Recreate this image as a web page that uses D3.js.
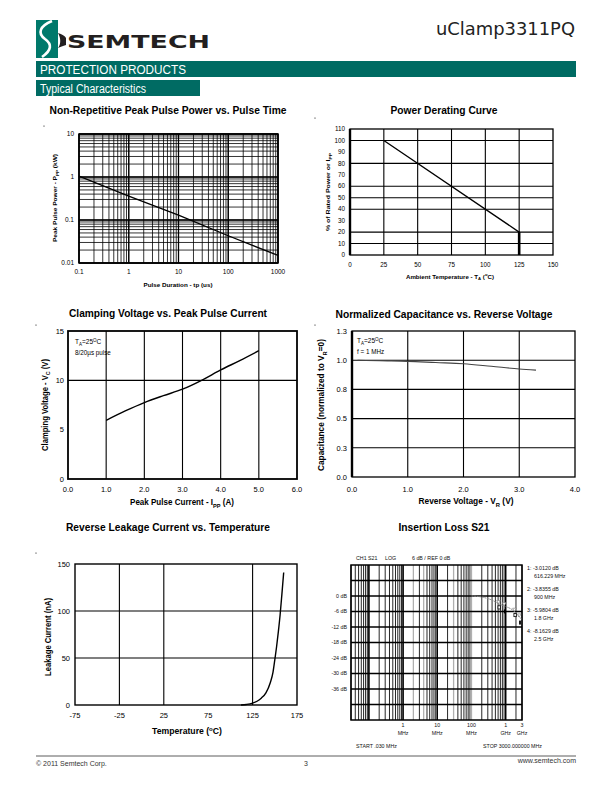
<!DOCTYPE html>
<html><head><meta charset="utf-8">
<script src="https://cdn.jsdelivr.net/npm/d3@7"></script>
<style>body{margin:0;background:#fff}svg{display:block}</style>
</head><body><svg id="page" width="612" height="792"></svg>
<script>
// ---------------- DATA ----------------
const pulseTime = [0.1, 1, 10, 100, 1000];
const pulsePower = [1.05, 0.36, 0.13, 0.043, 0.015];
const pulseXTicks = [0.1, 1, 10, 100, 1000];
const pulseXLabels = ["0.1", "1", "10", "100", "1000"];
const pulseYTicks = [0.01, 0.1, 1, 10];
const pulseYLabels = ["0.01", "0.1", "1", "10"];

const deratingTemp = [25, 125, 125];
const deratingPct = [100, 20, 0];
const deratingXTicks = [0, 25, 50, 75, 100, 125, 150];
const deratingYTicks = [0, 10, 20, 30, 40, 50, 60, 70, 80, 90, 100, 110];
const deratingXGrid = [25, 50, 75, 100, 125];
const deratingYGrid = [10, 20, 40, 50, 60, 80, 100];

const clampCurrent = [1.0, 1.5, 2.0, 2.5, 3.0, 3.5, 4.0, 4.5, 5.0];
const clampVoltage = [5.95, 6.9, 7.75, 8.45, 9.1, 10.0, 11.05, 12.0, 13.0];
const clampXTicks = [0, 1, 2, 3, 4, 5, 6];
const clampYTicks = [0, 5, 10, 15];
const clampXGrid = [1, 2, 3, 4, 5];
const clampYGrid = [10];

const capVoltage = [0.1, 0.5, 1.0, 1.5, 2.0, 2.5, 3.0, 3.3];
const capNorm = [1.0, 0.995, 0.99, 0.98, 0.97, 0.948, 0.925, 0.915];
const capXTicks = [0, 1, 2, 3, 4];
const capYTicks = [0, 0.25, 0.5, 0.75, 1.0, 1.25];
const capYLabels = ["0.0", "0.3", "0.5", "0.8", "1.0", "1.3"];
const capXGrid = [1, 2, 3];
const capYGrid = [0.25, 0.5, 0.75, 1.0];

const leakTemp = [112, 118, 125, 130, 135, 140, 145, 148, 150, 152, 154, 156, 158, 160];
const leakCurrent = [0, 0.6, 2, 4, 7.5, 13, 24, 35, 48, 62, 78, 96, 118, 141];
const leakXTicks = [-75, -25, 25, 75, 125, 175];
const leakYTicks = [0, 50, 100, 150];
const leakXGrid = [-25, 25, 125];
const leakYGrid = [50, 100];

const s21Freq = [100, 200, 300, 400, 500, 616.229, 900, 1800, 2500, 3000];
const s21Loss = [0, -0.4, -1.0, -1.6, -2.3, -3.012, -3.8355, -5.9804, -8.1629, -9.0];
const markerFreq = [616.229, 900, 1800, 2500];
const markerLoss = [-3.012, -3.8355, -5.9804, -8.1629];
const markerLine1 = ["1: -3.0120 dB", "2: -3.8355 dB", "3: -5.9804 dB", "4: -8.1629 dB"];
const markerLine2 = ["616.229 MHz", "900 MHz", "1.8 GHz", "2.5 GHz"];
const s21YTicks = [0, -6, -12, -18, -24, -30, -36];
const s21YGrid = [6, 0, -6, -12, -18, -24, -30, -36, -42];
const s21XTicks = [1, 10, 100, 1000, 3000];
const s21XLabels = ["1", "10", "100", "1", "3"];
const s21XUnits = ["MHz", "MHz", "MHz", "GHz", "GHz"];
const s21GrayFreq = [2, 4, 30, 100];

// ---------------- HELPERS ----------------
const SANS = '"Liberation Sans", Arial, Helvetica, sans-serif';
const NARROW = '"Liberation Sans Narrow", "Arial Narrow", "Liberation Sans", Arial, sans-serif';
const svg = d3.select("#page");

function label(g, x, y, parts, o = {}) {
  const size = o.size || 8;
  const t = g.append("text").attr("x", x).attr("y", y)
    .attr("font-size", size).attr("font-weight", o.bold ? "bold" : "normal")
    .attr("text-anchor", o.anchor || "start").attr("fill", o.fill || "#000")
    .style("font-family", o.family || SANS);
  if (o.rotate) t.attr("transform", `rotate(-90,${x},${y})`);
  if (o.width) t.attr("textLength", o.width).attr("lengthAdjust", "spacingAndGlyphs");
  if (typeof parts === "string") parts = [{t: parts}];
  let shift = 0;
  parts.forEach(p => {
    const ts = t.append("tspan").text(p.t);
    let target = 0;
    if (p.sub) { target = size * 0.3; ts.attr("font-size", size * 0.7); }
    if (p.sup) { target = -size * 0.35; ts.attr("font-size", size * 0.7); }
    if (target !== shift) { ts.attr("dy", target - shift); shift = target; }
  });
  if (o.fitScale) {
    const w = t.node().getComputedTextLength();
    if (w > 0) t.attr("transform", `translate(${x},${y}) scale(${o.fitScale / w},1) translate(${-x},${-y})`);
  }
  return t;
}
function vgrid(g, x, y, vals, sw, color) {
  const [y0, y1] = y.range();
  g.append("g").selectAll("line").data(vals).join("line")
    .attr("x1", d => x(d)).attr("x2", d => x(d)).attr("y1", y0).attr("y2", y1)
    .attr("stroke", color || "#000").attr("stroke-width", sw);
}
function hgrid(g, x, y, vals, sw, color) {
  const [x0, x1] = x.range();
  g.append("g").selectAll("line").data(vals).join("line")
    .attr("y1", d => y(d)).attr("y2", d => y(d)).attr("x1", x0).attr("x2", x1)
    .attr("stroke", color || "#000").attr("stroke-width", sw);
}
function frame(g, x, y, sw, leftSw) {
  const [x0, x1] = x.range(), [y0, y1] = y.range();
  g.append("rect").attr("x", x0).attr("y", y1).attr("width", x1 - x0).attr("height", y0 - y1)
    .attr("fill", "none").attr("stroke", "#000").attr("stroke-width", sw);
  if (leftSw) g.append("line").attr("x1", x0).attr("x2", x0).attr("y1", y1).attr("y2", y0)
    .attr("stroke", "#000").attr("stroke-width", leftSw);
}
function title(x, y, s, w) {
  label(svg, x, y, s, {size: 10.5, bold: true, anchor: "middle", family: NARROW, width: w});
}
function dot(x, y) { svg.append("circle").attr("cx", x).attr("cy", y).attr("r", 0.6).attr("fill", "#000"); }
const isDecade = d => Math.abs(Math.log10(d) - Math.round(Math.log10(d))) < 1e-6;

// ---------------- HEADER ----------------
const TEAL = "#006b63";
svg.append("rect").attr("x", 36).attr("y", 20).attr("width", 22).attr("height", 38).attr("fill", "#00796b");
svg.append("path").attr("d", "M52,21 C40,26 37,33 45,39 C52,44 52,50 42,57")
  .attr("fill", "none").attr("stroke", "#fff").attr("stroke-width", 2.6);
svg.append("path").attr("d", "M58,33 C62,34 65,36 66,38 L66,45 C63,46 60,47 58,48 C61,44 61,38 58,33 Z").attr("fill", "#231f20");
label(svg, 67, 47.5, "SEMTECH", {size: 17, bold: true, family: '"DejaVu Sans", "Liberation Sans", sans-serif', width: 143, fill: "#231f20"});
label(svg, 575, 35, "uClamp3311PQ", {size: 18, anchor: "end", width: 139, fill: "#222", family: '"DejaVu Sans", "Liberation Sans", sans-serif'});
svg.append("rect").attr("x", 36).attr("y", 61).attr("width", 540).attr("height", 16).attr("fill", TEAL);
label(svg, 40, 73.5, "PROTECTION PRODUCTS", {size: 12, fill: "#fff", family: NARROW, width: 146});
svg.append("rect").attr("x", 36).attr("y", 80).attr("width", 164).attr("height", 16).attr("fill", TEAL);
label(svg, 40, 92.5, "Typical Characteristics", {size: 12, fill: "#fff", family: NARROW, width: 106});

// ---------------- CHART 1: pulse power ----------------
title(168, 114, "Non-Repetitive Peak Pulse Power vs. Pulse Time", 237);
dot(44, 126);
(function () {
  const x = d3.scaleLog().domain([0.1, 1000]).range([79, 278]);
  const y = d3.scaleLog().domain([0.01, 10]).range([263, 134]);
  const g = svg.append("g");
  vgrid(g, x, y, x.ticks(), 0.8);
  vgrid(g, x, y, x.ticks().filter(isDecade), 1.3);
  hgrid(g, x, y, y.ticks(), 0.8);
  hgrid(g, x, y, y.ticks().filter(isDecade), 1.3);
  frame(g, x, y, 1.5);
  const pts = pulseTime.map((t, i) => [t, pulsePower[i]]);
  g.append("path").attr("d", d3.line().x(d => x(d[0])).y(d => y(d[1]))(pts))
    .attr("fill", "none").attr("stroke", "#000").attr("stroke-width", 1.3);
  pulseXTicks.forEach((v, i) => label(g, x(v), 274, pulseXLabels[i], {size: 6.5, anchor: "middle"}));
  pulseYTicks.forEach((v, i) => label(g, 74, y(v) + 2.3, pulseYLabels[i], {size: 6.5, anchor: "end"}));
  label(g, 178, 287, "Pulse Duration - tp (us)", {size: 6, bold: true, anchor: "middle", width: 69});
  label(g, 57, 198, [{t: "Peak Pulse Power - P"}, {t: "PP", sub: true}, {t: " (kW)"}], {size: 6, bold: true, anchor: "middle", rotate: true, width: 88});
})();

// ---------------- CHART 2: derating ----------------
title(444, 114, "Power Derating Curve", 107);
dot(315, 118);
(function () {
  const x = d3.scaleLinear().domain([0, 150]).range([350, 553]);
  const y = d3.scaleLinear().domain([0, 110]).range([255, 129]);
  const g = svg.append("g");
  vgrid(g, x, y, deratingXGrid, 1.1);
  hgrid(g, x, y, deratingYGrid, 1.1);
  frame(g, x, y, 1.3, 2.4);
  const pts = deratingTemp.map((t, i) => [t, deratingPct[i]]);
  const line = d3.line().x(d => x(d[0])).y(d => y(d[1]));
  g.append("path").attr("d", line(pts)).attr("fill", "none").attr("stroke", "#000").attr("stroke-width", 1.3);
  g.append("path").attr("d", line(pts.slice(1))).attr("fill", "none").attr("stroke", "#000").attr("stroke-width", 2.6);
  deratingXTicks.forEach(v => label(g, x(v), 267, String(v), {size: 6.3, anchor: "middle"}));
  deratingYTicks.forEach(v => label(g, 345, y(v) + 2.2, String(v), {size: 6.3, anchor: "end"}));
  label(g, 450, 278.5, [{t: "Ambient Temperature - T"}, {t: "A", sub: true}, {t: " ("}, {t: "o", sup: true}, {t: "C)"}], {size: 5.8, bold: true, anchor: "middle", width: 88});
  label(g, 330, 192, [{t: "% of Rated Power or I"}, {t: "PP", sub: true}], {size: 5.6, bold: true, anchor: "middle", rotate: true, width: 78});
})();

// ---------------- CHART 3: clamping ----------------
title(168, 317, "Clamping Voltage vs. Peak Pulse Current", 198);
dot(36, 325);
(function () {
  const x = d3.scaleLinear().domain([0, 6]).range([68, 297]);
  const y = d3.scaleLinear().domain([0, 15]).range([479, 331]);
  const g = svg.append("g");
  vgrid(g, x, y, clampXGrid, 1.1);
  hgrid(g, x, y, clampYGrid, 1.1);
  frame(g, x, y, 1.8);
  const pts = clampCurrent.map((c, i) => [c, clampVoltage[i]]);
  g.append("path").attr("d", d3.line().curve(d3.curveMonotoneX).x(d => x(d[0])).y(d => y(d[1]))(pts))
    .attr("fill", "none").attr("stroke", "#000").attr("stroke-width", 1.4);
  clampXTicks.forEach(v => label(g, x(v), 492, d3.format(".1f")(v), {size: 7.5, anchor: "middle"}));
  clampYTicks.forEach(v => label(g, 64, y(v) + 2.7, String(v), {size: 7.5, anchor: "end"}));
  label(g, 182, 505, [{t: "Peak Pulse Current - I"}, {t: "PP", sub: true}, {t: " (A)"}], {size: 8.5, bold: true, anchor: "middle", fitScale: 104, family: NARROW});
  label(g, 47.5, 405, [{t: "Clamping Voltage - V"}, {t: "C", sub: true}, {t: " (V)"}], {size: 8.5, bold: true, anchor: "middle", rotate: true, width: 92, family: NARROW});
  label(g, 75, 344, [{t: "T"}, {t: "A", sub: true}, {t: "=25"}, {t: "O", sup: true}, {t: "C"}], {size: 6.5});
  label(g, 75, 355, "8/20µs pulse", {size: 6.3});
})();

// ---------------- CHART 4: capacitance ----------------
title(444, 317.5, "Normalized Capacitance vs. Reverse Voltage", 217);
dot(315, 325);
(function () {
  const x = d3.scaleLinear().domain([0, 4]).range([352, 575]);
  const y = d3.scaleLinear().domain([0, 1.25]).range([477, 331]);
  const g = svg.append("g");
  vgrid(g, x, y, capXGrid, 1.1);
  hgrid(g, x, y, capYGrid, 1.1);
  frame(g, x, y, 1.3, 2.4);
  const pts = capVoltage.map((v, i) => [v, capNorm[i]]);
  g.append("path").attr("d", d3.line().curve(d3.curveMonotoneX).x(d => x(d[0])).y(d => y(d[1]))(pts))
    .attr("fill", "none").attr("stroke", "#444").attr("stroke-width", 1.1);
  capXTicks.forEach(v => label(g, x(v), 491.5, d3.format(".1f")(v), {size: 7.5, anchor: "middle"}));
  capYTicks.forEach((v, i) => label(g, 347, y(v) + 2.7, capYLabels[i], {size: 7.5, anchor: "end"}));
  label(g, 466, 504, [{t: "Reverse Voltage - V"}, {t: "R", sub: true}, {t: " (V)"}], {size: 8.5, bold: true, anchor: "middle", width: 95, family: NARROW});
  label(g, 324, 405, [{t: "Capacitance (normalized to V"}, {t: "R", sub: true}, {t: "=0)"}], {size: 8.5, bold: true, anchor: "middle", rotate: true, width: 132, family: NARROW});
  label(g, 357, 343, [{t: "T"}, {t: "A", sub: true}, {t: "=25"}, {t: "O", sup: true}, {t: "C"}], {size: 6.5});
  label(g, 357, 354, "f = 1 MHz", {size: 6.3});
})();

// ---------------- CHART 5: leakage ----------------
title(168, 531, "Reverse Leakage Current vs. Temperature", 204);
dot(36, 553);
(function () {
  const x = d3.scaleLinear().domain([-75, 175]).range([75, 297]);
  const y = d3.scaleLinear().domain([0, 150]).range([705, 564]);
  const g = svg.append("g");
  vgrid(g, x, y, leakXGrid, 1.1);
  hgrid(g, x, y, leakYGrid, 1.1);
  frame(g, x, y, 1.4);
  const pts = leakTemp.map((t, i) => [t, leakCurrent[i]]);
  g.append("path").attr("d", d3.line().curve(d3.curveMonotoneX).x(d => x(d[0])).y(d => y(d[1]))(pts))
    .attr("fill", "none").attr("stroke", "#000").attr("stroke-width", 1.4);
  leakXTicks.forEach(v => label(g, x(v), 718, String(v), {size: 7.5, anchor: "middle"}));
  leakYTicks.forEach(v => label(g, 70, y(v) + 2.7, String(v), {size: 7.5, anchor: "end"}));
  label(g, 187, 734, [{t: "Temperature ("}, {t: "o", sup: true}, {t: "C)"}], {size: 8.5, bold: true, anchor: "middle", width: 70, family: NARROW});
  label(g, 51, 637, "Leakage Current (nA)", {size: 8.5, bold: true, anchor: "middle", rotate: true, width: 78, family: NARROW});
})();

// ---------------- CHART 6: insertion loss ----------------
title(444, 531, "Insertion Loss S21", 91);
(function () {
  const x = d3.scaleLog().domain([0.03, 3000]).range([351, 522]);
  const y = d3.scaleLinear().domain([-48, 12]).range([720, 565]);
  const g = svg.append("g");
  const isGray = d => s21GrayFreq.some(f => Math.abs(d / f - 1) < 1e-6);
  const vt = x.ticks();
  vgrid(g, x, y, vt.filter(d => !isGray(d)), 0.85);
  vgrid(g, x, y, vt.filter(isGray), 1.3, "#b0b0b0");
  vgrid(g, x, y, vt.filter(d => isDecade(d) && !isGray(d)), 1.4);
  hgrid(g, x, y, s21YGrid, 1.3);
  frame(g, x, y, 1.5);
  const pts = s21Freq.map((f, i) => [f, s21Loss[i]]);
  g.append("path").attr("d", d3.line().curve(d3.curveMonotoneX).x(d => x(d[0])).y(d => y(d[1]))(pts))
    .attr("fill", "none").attr("stroke", "#888").attr("stroke-width", 0.9).attr("stroke-dasharray", "2,0.6");
  markerFreq.forEach((f, i) => {
    const mx = x(f), my = y(markerLoss[i]);
    g.append("path").attr("d", `M${mx - 1.8},${my - 3.2} L${mx + 1.8},${my - 3.2} L${mx},${my} Z`)
      .attr("fill", "#fff").attr("stroke", "#777").attr("stroke-width", 0.6);
    if (i % 2 === 0) {
      g.append("rect").attr("x", mx - 0.5).attr("y", my + 2).attr("width", 2.4).attr("height", 3.2)
        .attr("fill", "#fff").attr("stroke", "#000").attr("stroke-width", 0.8);
    } else {
      g.append("rect").attr("x", mx - 0.2).attr("y", my + 3.5).attr("width", 1.8).attr("height", 4)
        .attr("fill", "#000");
    }
    label(g, 527, 570 + i * 21, markerLine1[i], {size: 5.3, fill: "#111"});
    label(g, 534, 578 + i * 21, markerLine2[i], {size: 5.3, fill: "#111"});
  });
  s21YTicks.forEach(v => label(g, 347, y(v) + 1.9, v + " dB", {size: 5.3, anchor: "end", fill: "#111"}));
  s21XTicks.forEach((v, i) => {
    label(g, x(v), 727, s21XLabels[i], {size: 5.3, anchor: "middle", fill: "#111"});
    label(g, x(v), 735, s21XUnits[i], {size: 5.3, anchor: "middle", fill: "#111"});
  });
  label(g, 356, 560, "CH1 S21", {size: 5.3, fill: "#111"});
  label(g, 385, 560, "LOG", {size: 5.3, fill: "#111"});
  label(g, 412, 560, "6 dB / REF 0 dB", {size: 5.3, fill: "#111"});
  label(g, 356, 748, "START .030 MHz", {size: 5.3, fill: "#111"});
  label(g, 483, 748, "STOP  3000.000000 MHz", {size: 5.3, fill: "#111"});
})();

// ---------------- FOOTER ----------------
svg.append("line").attr("x1", 36).attr("x2", 576).attr("y1", 756).attr("y2", 756).attr("stroke", "#333").attr("stroke-width", 0.8);
label(svg, 36, 766, "© 2011 Semtech Corp.", {size: 7, fill: "#333"});
label(svg, 306, 766, "3", {size: 7, anchor: "middle", fill: "#333"});
label(svg, 576, 763, "www.semtech.com", {size: 7, anchor: "end", fill: "#333"});
</script></body></html>
